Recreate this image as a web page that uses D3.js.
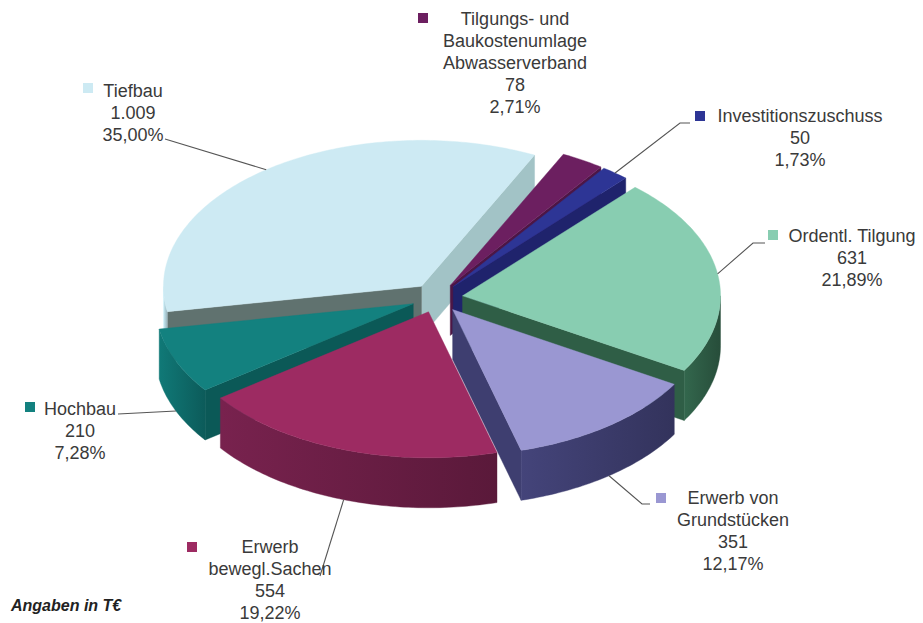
<!DOCTYPE html>
<html>
<head>
<meta charset="utf-8">
<script src="https://cdn.jsdelivr.net/npm/d3@7"></script>
<style>
  html, body { margin: 0; padding: 0; background: #ffffff; }
  svg { display: block; }
  text { font-family: "Liberation Sans", Arial, sans-serif; }
</style>
</head>
<body>
<svg id="chart" width="923" height="623"></svg>
<script>
// ---------- data ----------
const categories = [
  "Tilgungs- und Baukostenumlage Abwasserverband",
  "Investitionszuschuss",
  "Ordentl. Tilgung",
  "Erwerb von Grundstücken",
  "Erwerb bewegl.Sachen",
  "Hochbau",
  "Tiefbau"
];
const values = [78, 50, 631, 351, 554, 210, 1009];
const labelLines = [
  ["Tilgungs- und", "Baukostenumlage", "Abwasserverband"],
  ["Investitionszuschuss"],
  ["Ordentl. Tilgung"],
  ["Erwerb von", "Grundstücken"],
  ["Erwerb", "bewegl.Sachen"],
  ["Hochbau"],
  ["Tiefbau"]
];
const note = "Angaben in T€";

// ---------- styles ----------
const topColors   = ["#6c1f60", "#2d3595", "#88cdb1", "#9a97d2", "#9d2b62", "#13817f", "#cdeaf3"];
const wallColors  = ["#4d1645", "#1f236c", "#2f5e46", "#3e3e70", "#6e1f47", "#0f6f6d", "#b8d9e2"];
const startFace   = ["#4d1645", "#1f236c", "#2f5e46", "#3e3e70", "#5e1a3c", "#0b5957", "#60726f"];
const endFace     = ["#4d1645", "#1f236c", "#2f5e46", "#3e3e70", "#5e1a3c", "#0b5957", "#a2c3c6"];

// ---------- layout ----------
const W = 923, H = 623;
const cx = 437, cy = 298, rx = 258, ry = 146, depth = 50, explode = 0.1;
const startDeg = 26;
const lineH = 22;

// label placement (marker, text centre, first baseline, leader elbow points)
const labelLayout = [
  { mx: 418, my: 13,  tx: 515, ty: 25,  leader: null },
  { mx: 695, my: 111, tx: 800, ty: 122, leader: [[680, 123], [690, 123]] },
  { mx: 768, my: 230, tx: 852, ty: 242, leader: [[753, 243], [765, 243]] },
  { mx: 656, my: 493, tx: 733, ty: 504, leader: [[642, 504], [650, 504]] },
  { mx: 187, my: 542, tx: 270, ty: 553, leader: [[320, 576]] },
  { mx: 25,  my: 402, tx: 80,  ty: 415, leader: [[118, 414]] },
  { mx: 83,  my: 83,  tx: 133, ty: 97,  leader: [[165, 139]] }
];

const de = d3.formatLocale({ decimal: ",", thousands: ".", grouping: [3], currency: ["", "€"] });
const fmtVal = de.format(",.0f");
const fmtPct = de.format(".2f");
const total = d3.sum(values);

const svg = d3.select("#chart");
const defs = svg.append("defs");

const xS = d3.scaleLinear().domain([-1, 1]).range([cx - rx, cx + rx]);
const yS = d3.scaleLinear().domain([-1, 1]).range([cy - ry, cy + ry]);

const pie = d3.pie().sort(null).value(d => d)
  .startAngle(startDeg * Math.PI / 180)
  .endAngle(startDeg * Math.PI / 180 + 2 * Math.PI);
const arcs = pie(values).map((a, i) => {
  a.index = i;
  a.mid = (a.startAngle + a.endAngle) / 2;
  return a;
});

// projected point of slice i at angle a, radius r, height offset z
function P(d, a, r, z) {
  const ox = explode * Math.sin(d.mid), oy = -explode * Math.cos(d.mid);
  return [xS(r * Math.sin(a) + ox), yS(-r * Math.cos(a) + oy) + (z || 0)];
}
function arcPts(d, a0, a1, z) {
  const n = Math.max(2, Math.ceil(Math.abs(a1 - a0) / (Math.PI / 180)));
  const pts = [];
  for (let k = 0; k <= n; k++) pts.push(P(d, a0 + (a1 - a0) * k / n, 1, z));
  return pts;
}
const poly = d3.line();

// collect walls
const walls = [];
arcs.forEach(d => {
  const i = d.index;
  if (Math.sin(d.startAngle) < 0) {
    const pts = [P(d, 0, 0, 0), P(d, d.startAngle, 1, 0), P(d, d.startAngle, 1, depth), P(d, 0, 0, depth)];
    walls.push({ pts, fill: startFace[i], key: d3.mean(pts, p => p[1]) });
  }
  if (Math.sin(d.endAngle) > 0) {
    const pts = [P(d, 0, 0, 0), P(d, d.endAngle, 1, 0), P(d, d.endAngle, 1, depth), P(d, 0, 0, depth)];
    walls.push({ pts, fill: endFace[i], key: d3.mean(pts, p => p[1]) });
  }
  [[Math.PI / 2, 3 * Math.PI / 2], [5 * Math.PI / 2, 7 * Math.PI / 2]].forEach(([lo, hi]) => {
    const a0 = Math.max(lo, d.startAngle), a1 = Math.min(hi, d.endAngle);
    if (a1 > a0) {
      const top = arcPts(d, a0, a1, 0);
      const bot = arcPts(d, a0, a1, depth).reverse();
      const pts = top.concat(bot);
      const xs = d3.extent(pts, p => p[0]);
      const gid = "wg" + i + "_" + Math.round(lo * 100);
      const g = defs.append("linearGradient").attr("id", gid)
        .attr("gradientUnits", "userSpaceOnUse")
        .attr("x1", xs[0]).attr("x2", xs[1]).attr("y1", 0).attr("y2", 0);
      const base = d3.color(wallColors[i]);
      g.append("stop").attr("offset", "0%").attr("stop-color", base.brighter(0.25));
      g.append("stop").attr("offset", "100%").attr("stop-color", base.darker(0.55));
      walls.push({ pts, fill: "url(#" + gid + ")", key: d3.mean(pts, p => p[1]) });
    }
  });
});
walls.sort((a, b) => a.key - b.key);

const gPie = svg.append("g");
gPie.selectAll("path.wall").data(walls).join("path")
  .attr("class", "wall")
  .attr("d", w => poly(w.pts) + "Z")
  .attr("fill", w => w.fill)
  .attr("stroke", w => w.fill)
  .attr("stroke-width", 0.4);

gPie.selectAll("path.top").data(arcs).join("path")
  .attr("class", "top")
  .attr("d", d => poly([P(d, 0, 0, 0)].concat(arcPts(d, d.startAngle, d.endAngle, 0))) + "Z")
  .attr("fill", d => topColors[d.index])
  .attr("stroke", d => topColors[d.index])
  .attr("stroke-width", 0.4);

// leader lines
const gLab = svg.append("g");
arcs.forEach(d => {
  const L = labelLayout[d.index];
  if (!L.leader) return;
  const front = Math.cos(d.mid) < 0;
  const anchor = P(d, d.mid, 1, front ? depth : 0);
  gLab.append("path")
    .attr("d", d3.line()([anchor].concat(L.leader)))
    .attr("fill", "none")
    .attr("stroke", "#555")
    .attr("stroke-width", 1.1);
});

// labels
arcs.forEach(d => {
  const i = d.index, L = labelLayout[i];
  gLab.append("rect")
    .attr("x", L.mx).attr("y", L.my).attr("width", 10).attr("height", 10)
    .attr("fill", topColors[i]);
  const lines = labelLines[i].concat([fmtVal(values[i]), fmtPct(values[i] / total * 100) + "%"]);
  const t = gLab.append("text")
    .attr("text-anchor", "middle")
    .attr("font-size", "18px")
    .attr("fill", "#3a3a3a");
  lines.forEach((s, k) => {
    t.append("tspan").attr("x", L.tx).attr("y", L.ty + k * lineH).text(s);
  });
});

svg.append("text")
  .attr("x", 11).attr("y", 611)
  .attr("font-size", "16px")
  .attr("font-weight", "bold")
  .attr("font-style", "italic")
  .attr("fill", "#222")
  .text(note);
</script>
</body>
</html>
